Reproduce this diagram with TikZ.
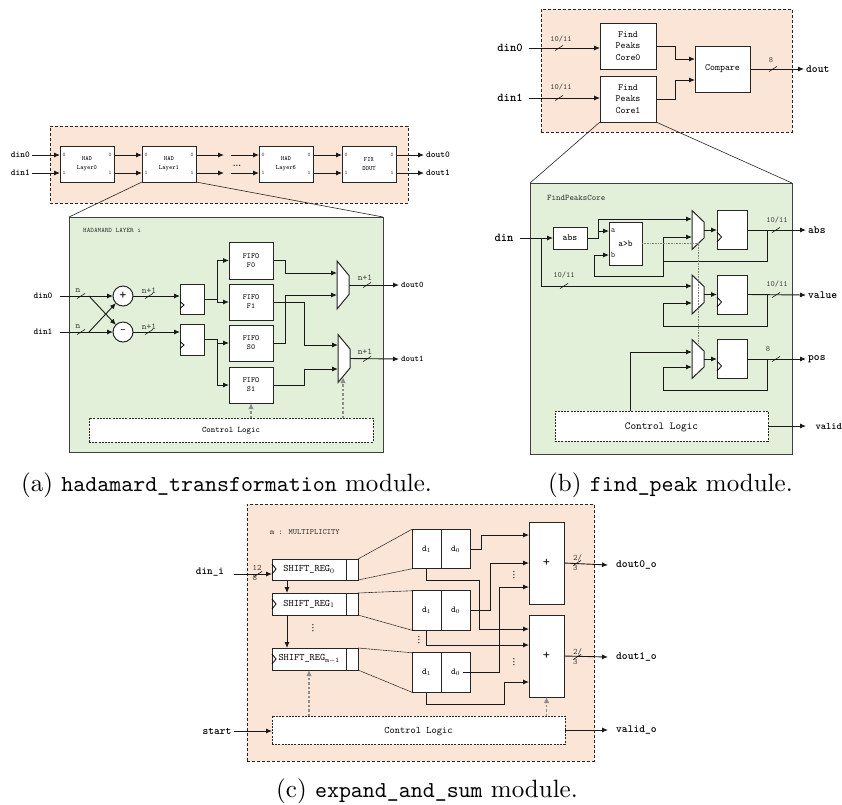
\documentclass[tikz,border=0pt]{standalone}
\usetikzlibrary{arrows.meta}
\definecolor{peachfill}{HTML}{FBE5D6}
\definecolor{greenfill}{HTML}{E2F0D9}
\font\capserif="[lmroman10-regular]" at 25pt
\font\captt="[lmmono10-regular]" at 22.8pt
\tikzset{
  boxsize/.style 2 args={minimum width=#1pt,minimum height=#2pt},
  tts/.style 2 args={font=\fontsize{#1}{#2}\selectfont\ttfamily},
  toparea/.style={draw=black!85,fill=peachfill,line width=.9pt,dash pattern=on 3pt off 2pt,inner sep=0,outer sep=0},
  corearea/.style={draw=black!75,fill=greenfill,line width=.9pt,inner sep=0,outer sep=0},
  blockbox/.style={draw=black!85,fill=white,line width=1pt,align=center,inner sep=0,outer sep=0},
  ctrlbox/.style={blockbox,line width=.9pt,dash pattern=on 2pt off 1.2pt,text depth=0pt},
  wire/.style={draw=black!90,line width=.9pt,-{Latex[length=6pt,width=5pt]}},
  plainwire/.style={draw=black!90,line width=.9pt},
  ctrlwire/.style={draw=black!45,line width=1.2pt,dash pattern=on 2.5pt off 2pt,-{Latex[length=6pt,width=5.5pt]}},
  selwire/.style={draw=black!50,line width=.8pt,dash pattern=on .8pt off .8pt},
  zoomline/.style={draw=black!85,line width=.6pt},
  fanline/.style={draw=black!85,line width=.6pt,dash pattern=on 1pt off .4pt},
  busslash/.style={draw=black!90,line width=.6pt},
  buslabel/.style={inner sep=0,text=black!75,align=left,tts={#1}{10}},
  buslabel/.default=8,
  portlabel/.style={inner sep=2pt,font=\fontsize{#1}{#1}\selectfont\ttfamily\bfseries},
  smalltext/.style={inner sep=0,text=black!80},
  dotmark/.style={inner sep=0,font=\fontsize{8}{8}\selectfont\bfseries},
  clocktip/.style={draw=black,line width=.8pt},
  captext/.style={inner sep=0,anchor=base west},
}
\newcommand{\busmark}[5][8]{%
  \draw[busslash] (#3) +(-4,2.6) -- +(4,-2.6);
  \node[buslabel=#1] (#2) at (#4) {#5};}
\begin{document}
\begin{tikzpicture}[x=1pt,y=-1pt]
\useasboundingbox (0,0) rectangle (842,804);
\begin{scope}
\node[toparea,boxsize={358}{77}] (hadtop) at (229,164.5) {};
\node[corearea,boxsize={314}{235}] (hadcore) at (226,334.5) {};
\node[blockbox,boxsize={54}{36},tts={6.3}{9}] (had0) at (87,164) {HAD\\Layer0};
\node[blockbox,boxsize={54}{36},tts={6.3}{9}] (had1) at (169,164) {HAD\\Layer1};
\node[blockbox,boxsize={54}{36},tts={6.3}{9}] (had6) at (286,164) {HAD\\Layer6};
\node[blockbox,boxsize={54}{36},tts={6.3}{9}] (fixd) at (369,164) {FIX\\DOUT};
\foreach \nm/\x in {had0/60,had1/142,had6/259,fixd/342} {
  \node[smalltext,tts={5.5}{6}] (\nm p0) at (\x+4,155) {0};
  \node[smalltext,tts={5.5}{6}] (\nm p1) at (\x+4,173) {1};
  \node[smalltext,tts={5.5}{6}] (\nm q0) at (\x+50,155) {0};
  \node[smalltext,tts={5.5}{6}] (\nm q1) at (\x+50,173) {1};
}
\draw[zoomline] (had1.south west) -- (hadcore.north west);
\draw[zoomline] (had1.south east) -- (hadcore.north east);
\node[portlabel=9,anchor=east] (din0a) at (32,155) {din0};
\node[portlabel=9,anchor=east] (din1a) at (32,173) {din1};
\node[portlabel=9,anchor=west] (dout0a) at (424,155) {dout0};
\node[portlabel=9,anchor=west] (dout1a) at (424,173) {dout1};
\coordinate (gap0a) at (224,155);
\coordinate (gap1a) at (224,173);
\coordinate (gap0b) at (231,155);
\coordinate (gap1b) at (231,173);
\draw[wire] (din0a.east) -- (din0a.east -| had0.west);
\draw[wire] (din1a.east) -- (din1a.east -| had0.west);
\draw[wire] (had0.east |- gap0a) -- (had1.west |- gap0a);
\draw[wire] (had0.east |- gap1a) -- (had1.west |- gap1a);
\draw[wire] (had1.east |- gap0a) -- (gap0a);
\draw[wire] (had1.east |- gap1a) -- (gap1a);
\draw[wire] (gap0b) -- (had6.west |- gap0b);
\draw[wire] (gap1b) -- (had6.west |- gap1b);
\draw[wire] (had6.east |- gap0a) -- (fixd.west |- gap0a);
\draw[wire] (had6.east |- gap1a) -- (fixd.west |- gap1a);
\draw[wire] (fixd.east |- dout0a) -- (dout0a.west);
\draw[wire] (fixd.east |- dout1a) -- (dout1a.west);
\node[dotmark] (gapdots) at (237,166) {...};

\node[smalltext,tts={6.8}{8},anchor=west] (hadtitle) at (83,230) {HADAMARD LAYER i};
\node[portlabel=9,anchor=center] (din0c) at (43,296) {din0};
\node[portlabel=9,anchor=center] (din1c) at (43,332) {din1};
\node[blockbox,circle,minimum size=20pt,tts={14}{14}] (addp) at (123,296) {+};
\node[blockbox,circle,minimum size=20pt,tts={11}{12}] (subm) at (123,332) {-};
\node[blockbox,boxsize={24}{30}] (rega) at (192,299) {};
\node[blockbox,boxsize={24}{31}] (regb) at (192,339.5) {};
\node[blockbox,boxsize={44}{37},tts={7.7}{9}] (fifof0) at (251,260.5) {FIFO\\F0};
\node[blockbox,boxsize={44}{36},tts={7.7}{9}] (fifof1) at (251,302) {FIFO\\F1};
\node[blockbox,boxsize={44}{36},tts={7.7}{9}] (fifos0) at (251,343) {FIFO\\S0};
\node[blockbox,boxsize={44}{36},tts={7.7}{9}] (fifos1) at (251,385) {FIFO\\S1};
\foreach \nm/\y in {rega/305,regb/345}
  \draw[clocktip] (\nm.west |- 0,\y) +(0,-3.5) -- +(4,0) -- +(0,3.5);
\foreach \nm/\x/\yc/\ya/\yb in {muxa/337/285/273/295,muxb/338/358.5/345/369} {
  \draw[blockbox] (\x,\yc-24) -- (\x+12,\yc-9.5) -- (\x+12,\yc+9.5) -- (\x,\yc+24) -- cycle;
  \coordinate (\nm o) at (\x+12,\yc);
  \coordinate (\nm i0) at (\x,\ya);
  \coordinate (\nm i1) at (\x,\yb);
}
\node[ctrlbox,boxsize={284}{24},tts={8.4}{10}] (ctrla) at (231,430) {Control Logic};
\node[portlabel=8.5,anchor=west] (doutc0) at (399,285) {dout0};
\node[portlabel=8.5,anchor=west] (doutc1) at (399,359) {dout1};
\coordinate (crossa) at (89,296);
\coordinate (crossb) at (89,332);
\coordinate (muxbsel) at (343,377);
\coordinate (ctrlbsel) at (343,418);
\draw[wire] ([xshift=5pt]din0c.east) -- (addp.west);
\draw[wire] ([xshift=5pt]din1c.east) -- (subm.west);
\draw[wire] (crossa) -- (subm.north west);
\draw[wire] (crossb) -- (addp.south west);
\draw[wire] (addp.east) -- (addp.east -| rega.west);
\draw[wire] (subm.east) -- (subm.east -| regb.west);
\draw[wire] (rega.east) -- ++(13,0) |- (fifof0.west);
\draw[wire] (rega.east) -- ++(13,0) |- (fifof1.west);
\draw[wire] (regb.east) -- ++(13,0) |- (fifos0.west);
\draw[wire] (regb.east) -- ++(13,0) |- (fifos1.west);
\draw[wire] (fifof0.east) -- ++(12,0) |- (muxai0);
\draw[wire] (fifos0.east) -- ++(12,0) |- (muxai1);
\draw[wire] (fifof1.east) -- ++(31,0) |- (muxbi0);
\draw[wire] (fifos1.east) -- ++(31,0) |- (muxbi1);
\draw[wire] (muxao) -- (doutc0.west);
\draw[wire] (muxbo) -- (doutc1.west);
\draw[ctrlwire] (ctrla.north -| fifos1) -- (fifos1.south);
\draw[ctrlwire] (ctrlbsel) -- (muxbsel);
\busmark[9]{busn0}{81,296}{78,291}{n}
\busmark[9]{busn1}{81,332}{78,327}{n}
\busmark[9]{busn2}{149,296}{149,291}{n+1}
\busmark[9]{busn3}{149,332}{149,327}{n+1}
\busmark[9]{busn4}{367,285}{365,278}{n+1}
\busmark[9]{busn5}{367,359}{365,352}{n+1}
\end{scope}

\begin{scope}
\node[toparea,boxsize={251}{123}] (peaktop) at (666.5,70.5) {};
\node[corearea,boxsize={262}{271}] (peakcore) at (661,318.5) {};
\node[blockbox,boxsize={56}{46},tts={9.5}{11.7}] (core0) at (628,46) {Find\\Peaks\\Core0};
\node[blockbox,boxsize={56}{46},tts={9.5}{11.7}] (core1) at (628,99) {Find\\Peaks\\Core1};
\node[blockbox,boxsize={55}{46},tts={9.5}{11}] (compare) at (722.5,69) {Compare};
\draw[zoomline] (core1.south west) -- (peakcore.north west);
\draw[zoomline] (core1.south east) -- (peakcore.north east);
\node[portlabel=12,anchor=center] (din0b) at (510,48) {din0};
\node[portlabel=12,anchor=center] (din1b) at (510,98) {din1};
\node[portlabel=11,anchor=west] (doutb) at (804,69) {dout};
\draw[wire] ([xshift=4pt]din0b.east) -- (din0b.east -| core0.west);
\draw[wire] ([xshift=4pt]din1b.east) -- (din1b.east -| core1.west);
\draw[wire] (core0.east) -- ++(19,0) |- (compare.west |- 0,59);
\draw[wire] (core1.east) -- ++(19,0) |- (compare.west |- 0,80);
\draw[wire] (compare.east) -- (doutb.west);
\busmark{busp0}{559,48}{561,39}{10/11}
\busmark{busp1}{559,98}{561,87}{10/11}
\busmark{busp2}{773,69}{771,60}{8}

\node[smalltext,tts={8.5}{10},anchor=west] (peaktitle) at (547,198) {FindPeaksCore};
\node[portlabel=12,anchor=center] (dinp) at (504,238) {din};
\node[blockbox,boxsize={34}{22},tts={9.3}{10}] (absbox) at (570,238) {abs};
\node[blockbox,boxsize={33}{43},tts={9}{10}] (cmpbox) at (625.5,243.5) {a>b};
\node[smalltext,tts={8.5}{9}] (cmpa) at (613,231) {a};
\node[smalltext,tts={8.5}{9}] (cmpb) at (613,255) {b};
\foreach \nm/\yc/\ya/\yb/\yk in {p1/230/219/237/237,p2/294.5/286/303/302,p3/359/352/367/366} {
  \draw[blockbox] (692,\yc-19.5) -- (704,\yc-8) -- (704,\yc+8) -- (692,\yc+19.5) -- cycle;
  \node[blockbox,boxsize={30}{39}] (reg\nm) at (732,\yc) {};
  \draw[clocktip] (reg\nm.west |- 0,\yk) +(0,-5) -- +(4.5,0) -- +(0,5);
  \coordinate (mux\nm o) at (704,\yc);
  \coordinate (mux\nm a) at (692,\ya);
  \coordinate (mux\nm b) at (692,\yb);
  \coordinate (fb\nm) at (767,\yc);
  \draw[wire] (mux\nm o) -- (reg\nm.west |- mux\nm o);
}
\node[ctrlbox,boxsize={213}{30},tts={10.7}{12}] (ctrlp) at (661.5,426) {Control Logic};
\node[portlabel=11,anchor=west] (outabs) at (806,230) {abs};
\node[portlabel=11,anchor=west] (outval) at (806,295) {value};
\node[portlabel=11,anchor=west] (outpos) at (806,359) {pos};
\node[portlabel=10,anchor=west] (outvalid) at (813.5,426) {valid};
\coordinate (dinfork) at (541,238);
\coordinate (hubp1) at (663,261);
\coordinate (hubp2) at (663,326);
\coordinate (hubp3) at (663,390);
\coordinate (cmploop) at (594,276);
\coordinate (ctrltap) at (630,411);
\coordinate (selp) at (698,343);
\draw[wire] ([xshift=4pt]dinp.east) -- (absbox.west);
\draw[wire] (dinfork) |- (muxp2a);
\draw[wire] (absbox.east) -- ++(11,0) |- (muxp1a);
\draw[wire] (absbox.east) -- ++(11,0) |- (cmpbox.west |- cmpa);
\draw[plainwire] (fbp1) |- (hubp1);
\draw[wire] (hubp1) |- (muxp1b);
\draw[wire] (hubp1) |- (cmploop) |- (cmpbox.west |- cmpb);
\draw[wire] (fbp2) |- (hubp2) |- (muxp2b);
\draw[wire] (fbp3) |- (hubp3) |- (muxp3b);
\draw[wire] (ctrltap) |- (muxp3a);
\draw[wire] (regp1.east) -- (outabs.west);
\draw[wire] (regp2.east) -- (outval.west);
\draw[wire] (regp3.east) -- (outpos.west);
\draw[wire] (ctrlp.east) -- (ctrlp.east -| outabs.west);
\draw[selwire] (cmpbox.east) -| (selp);
\busmark{busq0}{564,286}{564,275}{10/11}
\busmark{busq1}{776,230}{777,220}{10/11}
\busmark{busq2}{776,295}{777,284}{10/11}
\busmark{busq3}{776,359}{768,349}{8}
\end{scope}

\begin{scope}
\node[toparea,boxsize={347}{257}] (sumarea) at (420.5,632.5) {};
\node[smalltext,tts={8}{10},anchor=west] (sumtitle) at (270,532) {m : MULTIPLICITY};
\node[blockbox,boxsize={74}{21},tts={9.9}{11}] (sreg0) at (309,569.5) {SHIFT\_REG$_0$};
\node[blockbox,boxsize={74}{22},tts={9.9}{11}] (sreg1) at (309,604) {SHIFT\_REG$_1$};
\node[blockbox,boxsize={74}{22},tts={9.9}{11}] (sreg2) at (309,659) {SHIFT\_REG$_{\mathtt{m-1}}$};
\node[blockbox,boxsize={12}{21}] (stail0) at (352,569.5) {};
\node[blockbox,boxsize={12}{22}] (stail1) at (352,604) {};
\node[blockbox,boxsize={12}{22}] (stail2) at (352,659) {};
\foreach \nm/\y in {sreg0/569,sreg1/604,sreg2/659}
  \draw[clocktip] (\nm.west |- 0,\y) +(0,-5) -- +(4,0) -- +(0,5);
\foreach \nm/\y in {dtop/549,dmid/610.5,dlow/672.5} {
  \node[blockbox,boxsize={29}{39.5},tts={9}{10}] (\nm1) at (426.5,\y) {d$_1$};
  \node[blockbox,boxsize={29}{39.5},tts={9}{10}] (\nm0) at (455.5,\y) {d$_0$};
}
\foreach \nm/\t in {stail0/dtop,stail1/dmid,stail2/dlow} {
  \draw[fanline] (\nm.north east) -- (\t1.north west);
  \draw[fanline] (\nm.south east) -- (\t1.south west);
}
\node[blockbox,boxsize={35}{82},tts={14}{14}] (addera) at (546.5,563) {+};
\node[blockbox,boxsize={35}{82},tts={14}{14}] (adderb) at (546.5,656) {+};
\node[ctrlbox,boxsize={293}{28},tts={10}{12}] (ctrls) at (418.5,730) {Control Logic};
\node[portlabel=10.7,anchor=center] (dini) at (210,572) {din\_i};
\node[portlabel=11,anchor=center] (startl) at (217,731) {start};
\node[portlabel=11,anchor=west] (dout0s) at (614,565) {dout0\_o};
\node[portlabel=11,anchor=west] (dout1s) at (614,657) {dout1\_o};
\node[portlabel=11,anchor=west] (valids) at (614,730) {valid\_o};
\coordinate (dinitap) at (234,574);
\coordinate (tapa) at (479,580);
\coordinate (tapb) at (504,704);
\draw[wire] (dinitap) -- (dinitap -| sreg0.west);
\draw[wire] (sreg0.south -| 287,0) -- (sreg1.north -| 287,0);
\draw[wire] (sreg1.south -| 287,0) -- (sreg2.north -| 287,0);
\draw[wire] (startl.east) -- (ctrls.west |- startl.east);
\draw[ctrlwire] (ctrls.north -| sreg2) -- (sreg2.south);
\draw[ctrlwire] (ctrls.north -| adderb) -- (adderb.south);
\draw[wire] (dtop0.east) -- ++(11,0) |- (addera.west |- 0,535);
\draw[wire] (dmid0.east) -- ++(20,0) |- (addera.west);
\draw[wire] ([xshift=7pt]dlow0.center) -- ++(37,0) |- (addera.west |- 0,587);
\draw[wire] (dtop1.south) |- (tapa) |- (adderb.west |- 0,629);
\draw[wire] (dmid1.south) |- (adderb.west |- 0,645);
\draw[wire] (dlow1.south) |- (tapb) |- (adderb.west |- 0,682);
\draw[wire] (addera.east) -- ([xshift=-6pt]dout0s.west);
\draw[wire] (adderb.east) -- ([xshift=-6pt]dout1s.west);
\draw[wire] (ctrls.east) -- ([xshift=-6pt]valids.west);
\node[buslabel=8.5,anchor=west] (buss0) at (573,563) {2/\\3};
\node[buslabel=8.5,anchor=west] (buss1) at (573,657) {2/\\3};
\node[buslabel=8.5,anchor=west] (buss2) at (252.5,573) {12\\8};
\draw[busslash] (577,563) +(-4,2.6) -- +(4,-2.6);
\draw[busslash] (577,657) +(-4,2.6) -- +(4,-2.6);
\draw[busslash] (258,574) +(-4,2.6) -- +(4,-2.6);
\foreach \nm/\x/\y in {vdota/313/628,vdotb/419/640,vdotc/514/575,vdotd/514/662}
  \node[dotmark,rotate=90] (\nm) at (\x,\y) {...};
\end{scope}

\node[captext] (capa) at (21,491.7) {\capserif (a) \captt hadamard\_transformation\capserif\ module.};
\node[captext] (capb) at (548,491.7) {\capserif (b) \captt find\_peak\capserif\ module.};
\node[captext] (capc) at (276,797.6) {\capserif (c) \captt expand\_and\_sum\capserif\ module.};
\end{tikzpicture}
\end{document}
